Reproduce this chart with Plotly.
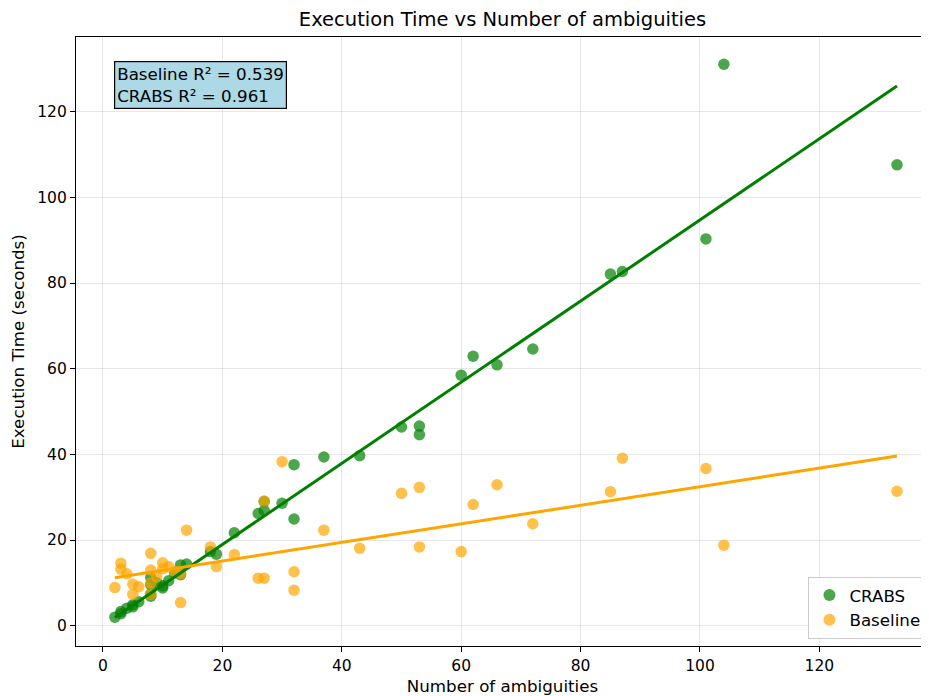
import plotly.graph_objects as go

# Number of ambiguities per problem (shared by both methods)
ambiguities = [133, 104, 101, 87, 85, 72, 66, 62, 60, 53, 53, 50, 43, 37, 32, 32, 30, 27, 27, 26,
               22, 19, 18, 14, 13, 13, 12, 11, 10, 10, 9, 8, 8, 8, 8, 6, 5, 5, 4, 3, 3, 2]

crabs_time = [107.6, 131.1, 90.3, 82.7, 82.1, 64.6, 60.9, 62.9, 58.5, 46.6, 44.6, 46.4, 39.7, 39.4,
              37.6, 24.9, 28.6, 29.0, 26.9, 26.2, 21.7, 16.7, 17.3, 14.4, 14.2, 11.9, 12.3, 10.5,
              8.8, 9.3, 10.0, 11.2, 9.6, 7.4, 6.9, 5.6, 4.9, 4.4, 4.1, 3.3, 2.8, 2.0]

baseline_time = [31.4, 18.8, 36.7, 39.1, 31.3, 23.8, 32.9, 28.3, 17.3, 32.3, 18.4, 30.9, 18.1, 22.3,
                 12.6, 8.3, 38.3, 29.1, 11.1, 11.1, 16.6, 13.8, 18.4, 22.3, 5.4, 12.1, 12.6, 13.8,
                 14.7, 13.3, 11.4, 16.9, 13.0, 9.9, 7.3, 9.1, 9.7, 7.3, 12.1, 14.6, 13.2, 8.9]

# Linear-fit trend lines (value at the smallest and largest x)
fit_x = [min(ambiguities), max(ambiguities)]
crabs_fit = [1.9, 126.0]
baseline_fit = [11.2, 39.6]

r2_labels = ["Baseline R² = 0.539", "CRABS R² = 0.961"]

FONT = "DejaVu Sans"
fig = go.Figure()
fig.add_trace(go.Scatter(x=ambiguities, y=crabs_time, mode="markers", name="CRABS",
                         marker=dict(color="rgba(0,128,0,0.7)", size=11.5, line=dict(width=0))))
fig.add_trace(go.Scatter(x=ambiguities, y=baseline_time, mode="markers", name="Baseline",
                         marker=dict(color="rgba(255,165,0,0.7)", size=11.5, line=dict(width=0))))
fig.add_trace(go.Scatter(x=fit_x, y=crabs_fit, mode="lines", showlegend=False,
                         line=dict(color="green", width=3)))
fig.add_trace(go.Scatter(x=fit_x, y=baseline_fit, mode="lines", showlegend=False,
                         line=dict(color="orange", width=3)))

axis_common = dict(showgrid=True, gridcolor="rgba(176,176,176,0.3)", gridwidth=1,
                   zeroline=False, showline=True, linecolor="black", linewidth=1.2,
                   ticks="outside", ticklen=5, tickwidth=1.2, tickcolor="black",
                   tickfont=dict(family=FONT, size=15.5, color="black"))

fig.update_layout(
    width=921, height=688,
    margin=dict(l=68, r=0, t=29, b=50),
    paper_bgcolor="white", plot_bgcolor="white",
    font=dict(family=FONT, color="black"),
    title=dict(text="Execution Time vs Number of ambiguities", x=0.5, xanchor="center",
               xref="paper", y=0.984, yref="container", yanchor="middle",
               font=dict(family=FONT, size=19.5)),
    xaxis=dict(range=[-4.52, 138.36], tickvals=[0, 20, 40, 60, 80, 100, 120], mirror=True,
               title=dict(text="Number of ambiguities", font=dict(family=FONT, size=16.7), standoff=6),
               **axis_common),
    yaxis=dict(range=[-4.74, 137.45], tickvals=[0, 20, 40, 60, 80, 100, 120], mirror=False,
               title=dict(text="Execution Time (seconds)", font=dict(family=FONT, size=16.7), standoff=9),
               **axis_common),
    legend=dict(x=0.997, y=0.012, xanchor="right", yanchor="bottom",
                bgcolor="rgba(255,255,255,0.85)", bordercolor="#cccccc", borderwidth=1,
                font=dict(family=FONT, size=16.7), itemsizing="constant"),
    showlegend=True,
)

fig.add_annotation(xref="paper", yref="paper", x=0.0445, y=0.9606, xanchor="left", yanchor="top",
                   text="<br>".join(r2_labels), showarrow=False, align="left",
                   font=dict(family=FONT, size=16.7, color="black"),
                   bgcolor="lightblue", bordercolor="black", borderwidth=1.2, borderpad=2)

fig.write_html("out.html")
